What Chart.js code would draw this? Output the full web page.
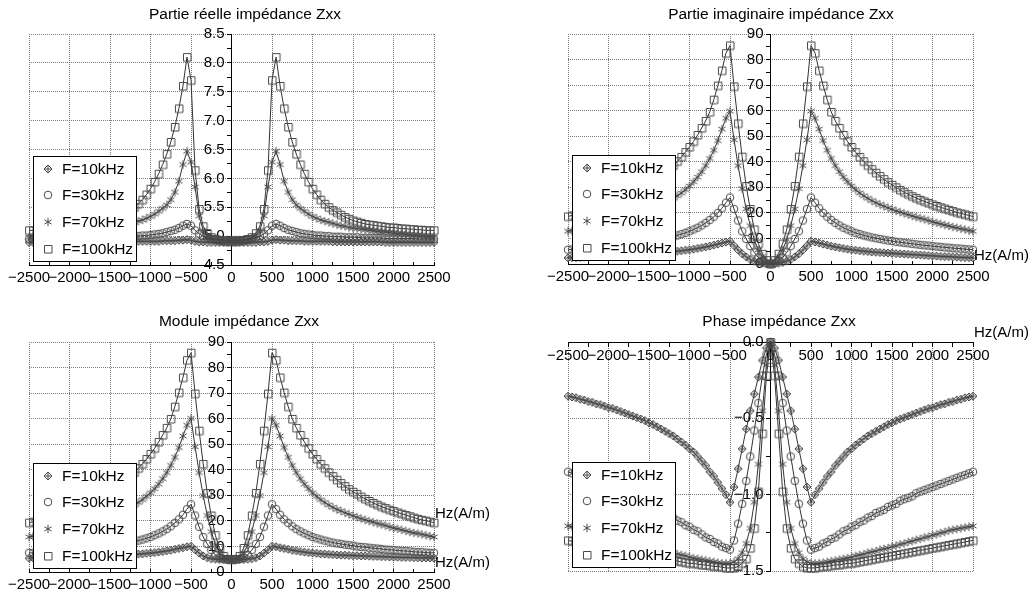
<!DOCTYPE html>
<html>
<head>
<meta charset="utf-8">
<title>Impédance Zxx</title>
<script src="https://cdn.jsdelivr.net/npm/chart.js@4.4.1/dist/chart.umd.min.js"></script>
<style>
  body { margin: 0; background: #fff; font-family: "Liberation Sans", Arial, sans-serif; }
  #page { position: relative; width: 1036px; height: 599px; overflow: hidden; background: #fff; }
  canvas { position: absolute; }
  .title { position: absolute; width: 400px; text-align: center; font-size: 15.5px; line-height: 18px; color: #000; white-space: nowrap; }
  .unit { position: absolute; font-size: 15px; line-height: 18px; color: #000; white-space: nowrap; }
</style>
</head>
<body>
<div id="page">
  <canvas id="c1" width="518" height="300" style="left:0px;top:0px"></canvas>
  <canvas id="c2" width="518" height="300" style="left:518px;top:0px"></canvas>
  <canvas id="c3" width="518" height="299" style="left:0px;top:300px"></canvas>
  <canvas id="c4" width="518" height="299" style="left:518px;top:300px"></canvas>

  <div class="title" style="left:45px;top:5px">Partie réelle impédance Zxx</div>
  <div class="title" style="left:581px;top:5px">Partie imaginaire impédance Zxx</div>
  <div class="title" style="left:39px;top:312px">Module impédance Zxx</div>
  <div class="title" style="left:579px;top:312px">Phase impédance Zxx</div>

  <div class="unit" style="left:974px;top:246px">Hz(A/m)</div>
  <div class="unit" style="left:435px;top:504px">Hz(A/m)</div>
  <div class="unit" style="left:435px;top:553px">Hz(A/m)</div>
  <div class="unit" style="left:974px;top:323px">Hz(A/m)</div>
</div>

<script>

const hz = [
  -2500,-2450,-2400,-2350,-2300,-2250,-2200,-2150,-2100,-2050,
  -2000,-1950,-1900,-1850,-1800,-1750,-1700,-1650,-1600,-1550,
  -1500,-1450,-1400,-1350,-1300,-1250,-1200,-1150,-1100,-1050,
  -1000,-950,-900,-850,-800,-750,-700,-650,-600,-550,
  -500,-450,-400,-350,-300,-250,-200,-150,-100,-50,
  0,
  50,100,150,200,250,300,350,400,450,500,
  550,600,650,700,750,800,850,900,950,1000,
  1050,1100,1150,1200,1250,1300,1350,1400,1450,1500,
  1550,1600,1650,1700,1750,1800,1850,1900,1950,2000,
  2050,2100,2150,2200,2250,2300,2350,2400,2450,2500
];

const legendLabels = ["F=10kHz", "F=30kHz", "F=70kHz", "F=100kHz"];

// partie réelle
const reelF10 = [
  4.89,4.89,4.89,4.89,4.89,4.89,4.89,4.89,4.89,4.89,
  4.89,4.89,4.89,4.9,4.9,4.9,4.9,4.9,4.9,4.9,
  4.9,4.9,4.9,4.9,4.9,4.9,4.91,4.91,4.91,4.91,
  4.91,4.91,4.91,4.92,4.92,4.92,4.92,4.93,4.93,4.94,
  4.93,4.91,4.9,4.9,4.89,4.89,4.89,4.89,4.89,4.89,
  4.89,
  4.89,4.89,4.89,4.89,4.89,4.89,4.9,4.9,4.91,4.93,
  4.94,4.93,4.93,4.92,4.92,4.92,4.92,4.91,4.91,4.91,
  4.91,4.91,4.91,4.91,4.9,4.9,4.9,4.9,4.9,4.9,
  4.9,4.9,4.9,4.9,4.9,4.9,4.9,4.89,4.89,4.89,
  4.89,4.89,4.89,4.89,4.89,4.89,4.89,4.89,4.89,4.89
];
const reelF30 = [
  4.95,4.95,4.95,4.95,4.95,4.96,4.96,4.96,4.96,4.96,
  4.96,4.96,4.96,4.97,4.97,4.97,4.97,4.97,4.97,4.98,
  4.98,4.98,4.98,4.99,4.99,4.99,5.0,5.0,5.01,5.01,
  5.02,5.03,5.04,5.05,5.07,5.09,5.11,5.14,5.18,5.21,
  5.18,5.1,5.04,5.0,4.97,4.95,4.94,4.93,4.93,4.93,
  4.93,
  4.93,4.93,4.93,4.94,4.95,4.97,5.0,5.04,5.1,5.18,
  5.21,5.18,5.14,5.11,5.09,5.07,5.05,5.04,5.03,5.02,
  5.01,5.01,5.0,5.0,4.99,4.99,4.99,4.98,4.98,4.98,
  4.98,4.97,4.97,4.97,4.97,4.97,4.97,4.96,4.96,4.96,
  4.96,4.96,4.96,4.96,4.96,4.95,4.95,4.95,4.95,4.95
];
const reelF70 = [
  4.98,4.99,4.99,5.0,5.01,5.01,5.02,5.03,5.04,5.04,
  5.05,5.06,5.07,5.07,5.08,5.09,5.1,5.11,5.12,5.13,
  5.14,5.15,5.17,5.18,5.2,5.22,5.24,5.26,5.28,5.31,
  5.34,5.38,5.43,5.48,5.54,5.63,5.76,5.95,6.24,6.47,
  6.28,5.85,5.35,5.1,5.01,4.97,4.95,4.94,4.93,4.93,
  4.93,
  4.93,4.93,4.94,4.95,4.97,5.01,5.1,5.35,5.85,6.28,
  6.47,6.24,5.95,5.76,5.63,5.54,5.48,5.43,5.38,5.34,
  5.31,5.28,5.26,5.24,5.22,5.2,5.18,5.17,5.15,5.14,
  5.13,5.12,5.11,5.1,5.09,5.08,5.07,5.07,5.06,5.05,
  5.04,5.04,5.03,5.02,5.01,5.01,5.0,4.99,4.99,4.98
];
const reelF100 = [
  5.1,5.1,5.1,5.11,5.11,5.12,5.12,5.13,5.13,5.14,
  5.15,5.15,5.16,5.17,5.18,5.19,5.2,5.21,5.23,5.25,
  5.27,5.3,5.33,5.37,5.41,5.45,5.5,5.56,5.63,5.72,
  5.82,5.94,6.08,6.24,6.42,6.63,6.89,7.21,7.6,8.1,
  7.7,6.14,5.47,5.17,5.05,4.98,4.95,4.93,4.92,4.91,
  4.91,
  4.91,4.92,4.93,4.95,4.98,5.05,5.17,5.47,6.14,7.7,
  8.1,7.6,7.21,6.89,6.63,6.42,6.24,6.08,5.94,5.82,
  5.72,5.63,5.56,5.5,5.45,5.41,5.37,5.33,5.3,5.27,
  5.25,5.23,5.21,5.2,5.19,5.18,5.17,5.16,5.15,5.15,
  5.14,5.13,5.13,5.12,5.12,5.11,5.11,5.1,5.1,5.1
];

// partie imaginaire
const imagF10 = [
  2.4,2.5,2.5,2.6,2.7,2.8,2.9,2.9,3.0,3.1,
  3.2,3.3,3.4,3.5,3.6,3.7,3.8,3.9,4.0,4.1,
  4.2,4.3,4.4,4.5,4.6,4.7,4.9,5.0,5.2,5.4,
  5.6,5.8,6.1,6.4,6.7,7.0,7.4,7.8,8.2,8.6,
  8.9,7.2,5.5,4.0,2.8,1.8,1.1,0.6,0.3,0.1,
  0,
  0.1,0.3,0.6,1.1,1.8,2.8,4.0,5.5,7.2,8.9,
  8.6,8.2,7.8,7.4,7.0,6.7,6.4,6.1,5.8,5.6,
  5.4,5.2,5.0,4.9,4.7,4.6,4.5,4.4,4.3,4.2,
  4.1,4.0,3.9,3.8,3.7,3.6,3.5,3.4,3.3,3.2,
  3.1,3.0,2.9,2.9,2.8,2.7,2.6,2.5,2.5,2.4
];
const imagF30 = [
  5.6,5.7,5.8,6.0,6.1,6.2,6.4,6.5,6.7,6.8,
  7.0,7.2,7.3,7.5,7.7,7.9,8.1,8.3,8.5,8.7,
  9.0,9.2,9.5,9.8,10.1,10.4,10.8,11.2,11.7,12.2,
  12.8,13.5,14.2,15.1,16.1,17.2,18.5,20.0,21.8,24.0,
  26.0,21.5,17.0,12.8,9.8,7.0,4.5,2.5,1.2,0.3,
  0,
  0.3,1.2,2.5,4.5,7.0,9.8,12.8,17.0,21.5,26.0,
  24.0,21.8,20.0,18.5,17.2,16.1,15.1,14.2,13.5,12.8,
  12.2,11.7,11.2,10.8,10.4,10.1,9.8,9.5,9.2,9.0,
  8.7,8.5,8.3,8.1,7.9,7.7,7.5,7.3,7.2,7.0,
  6.8,6.7,6.5,6.4,6.2,6.1,6.0,5.8,5.7,5.6
];
const imagF70 = [
  12.8,13.1,13.5,13.8,14.2,14.5,14.9,15.3,15.7,16.1,
  16.5,17.0,17.5,17.9,18.3,18.8,19.3,19.8,20.3,20.8,
  21.4,22.0,22.6,23.3,24.0,24.8,25.7,26.7,27.8,29.1,
  30.5,32.2,34.0,36.1,38.5,41.3,44.5,48.3,52.8,57.0,
  59.8,48.6,38.5,29.5,21.5,15.0,9.5,5.5,3.0,1.0,
  0,
  1.0,3.0,5.5,9.5,15.0,21.5,29.5,38.5,48.6,59.8,
  57.0,52.8,48.3,44.5,41.3,38.5,36.1,34.0,32.2,30.5,
  29.1,27.8,26.7,25.7,24.8,24.0,23.3,22.6,22.0,21.4,
  20.8,20.3,19.8,19.3,18.8,18.3,17.9,17.5,17.0,16.5,
  16.1,15.7,15.3,14.9,14.5,14.2,13.8,13.5,13.1,12.8
];
const imagF100 = [
  18.6,19.0,19.4,19.8,20.2,20.7,21.2,21.7,22.2,22.7,
  23.3,23.9,24.5,25.1,25.8,26.5,27.3,28.1,29.0,30.0,
  31.0,32.0,33.2,34.4,35.7,37.1,38.6,40.2,41.9,43.8,
  45.8,48.0,50.5,53.2,56.0,59.5,64.3,69.8,75.7,82.5,
  85.5,69.5,55.0,42.0,30.5,21.5,13.5,8.0,4.0,1.5,
  0,
  1.5,4.0,8.0,13.5,21.5,30.5,42.0,55.0,69.5,85.5,
  82.5,75.7,69.8,64.3,59.5,56.0,53.2,50.5,48.0,45.8,
  43.8,41.9,40.2,38.6,37.1,35.7,34.4,33.2,32.0,31.0,
  30.0,29.0,28.1,27.3,26.5,25.8,25.1,24.5,23.9,23.3,
  22.7,22.2,21.7,21.2,20.7,20.2,19.8,19.4,19.0,18.6
];

// module
const moduleF10 = [
  5.4,5.5,5.5,5.5,5.6,5.6,5.7,5.7,5.7,5.8,
  5.8,5.9,6.0,6.0,6.1,6.1,6.2,6.3,6.3,6.4,
  6.4,6.5,6.6,6.6,6.7,6.8,6.9,7.0,7.1,7.3,
  7.4,7.6,7.8,8.0,8.3,8.5,8.9,9.2,9.5,9.9,
  10.1,8.7,7.4,6.3,5.6,5.2,5.0,4.9,4.9,4.9,
  4.9,
  4.9,4.9,4.9,5.0,5.2,5.6,6.3,7.4,8.7,10.1,
  9.9,9.5,9.2,8.9,8.5,8.3,8.0,7.8,7.6,7.4,
  7.3,7.1,7.0,6.9,6.8,6.7,6.6,6.6,6.5,6.4,
  6.4,6.3,6.3,6.2,6.1,6.1,6.0,6.0,5.9,5.8,
  5.8,5.7,5.7,5.7,5.6,5.6,5.5,5.5,5.5,5.4
];
const moduleF30 = [
  7.5,7.5,7.6,7.8,7.8,7.9,8.1,8.2,8.3,8.4,
  8.6,8.7,8.8,9.0,9.2,9.3,9.5,9.7,9.8,10.0,
  10.3,10.5,10.7,11.0,11.2,11.5,11.9,12.3,12.7,13.2,
  13.7,14.4,15.1,15.9,16.8,17.9,19.2,20.6,22.4,24.6,
  26.5,22.1,17.7,13.7,11.0,8.6,6.7,5.5,5.1,4.9,
  4.9,
  4.9,5.1,5.5,6.7,8.6,11.0,13.7,17.7,22.1,26.5,
  24.6,22.4,20.6,19.2,17.9,16.8,15.9,15.1,14.4,13.7,
  13.2,12.7,12.3,11.9,11.5,11.2,11.0,10.7,10.5,10.3,
  10.0,9.8,9.7,9.5,9.3,9.2,9.0,8.8,8.7,8.6,
  8.4,8.3,8.2,8.1,7.9,7.8,7.8,7.6,7.5,7.5
];
const moduleF70 = [
  13.7,14.0,14.4,14.7,15.1,15.3,15.7,16.1,16.5,16.9,
  17.2,17.7,18.2,18.6,19.0,19.5,19.9,20.4,20.9,21.4,
  22.0,22.6,23.2,23.9,24.5,25.3,26.2,27.2,28.3,29.6,
  31.0,32.6,34.4,36.5,38.9,41.7,44.9,48.7,53.2,57.4,
  60.1,49.0,38.9,29.9,22.1,15.8,10.7,7.4,5.8,5.0,
  4.9,
  5.0,5.8,7.4,10.7,15.8,22.1,29.9,38.9,49.0,60.1,
  57.4,53.2,48.7,44.9,41.7,38.9,36.5,34.4,32.6,31.0,
  29.6,28.3,27.2,26.2,25.3,24.5,23.9,23.2,22.6,22.0,
  21.4,20.9,20.4,19.9,19.5,19.0,18.6,18.2,17.7,17.2,
  16.9,16.5,16.1,15.7,15.3,15.1,14.7,14.4,14.0,13.7
];
const moduleF100 = [
  19.3,19.7,20.1,20.4,20.8,21.3,21.8,22.3,22.8,23.3,
  23.9,24.4,25.0,25.6,26.3,27.0,27.8,28.6,29.5,30.5,
  31.4,32.4,33.6,34.8,36.1,37.5,39.0,40.6,42.3,44.2,
  46.2,48.4,50.9,53.6,56.4,59.9,64.7,70.2,76.1,82.9,
  85.8,69.8,55.3,42.3,30.9,22.1,14.4,9.4,6.3,5.1,
  4.9,
  5.1,6.3,9.4,14.4,22.1,30.9,42.3,55.3,69.8,85.8,
  82.9,76.1,70.2,64.7,59.9,56.4,53.6,50.9,48.4,46.2,
  44.2,42.3,40.6,39.0,37.5,36.1,34.8,33.6,32.4,31.4,
  30.5,29.5,28.6,27.8,27.0,26.3,25.6,25.0,24.4,23.9,
  23.3,22.8,22.3,21.8,21.3,20.8,20.4,20.1,19.7,19.3
];

// phase
const phaseF10 = [
  -0.355,-0.36,-0.365,-0.375,-0.38,-0.39,-0.395,-0.405,-0.41,-0.42,
  -0.43,-0.435,-0.445,-0.455,-0.465,-0.475,-0.485,-0.495,-0.505,-0.515,
  -0.53,-0.54,-0.555,-0.57,-0.585,-0.6,-0.615,-0.635,-0.655,-0.675,
  -0.7,-0.72,-0.75,-0.78,-0.81,-0.85,-0.88,-0.92,-0.96,-1.0,
  -1.05,-0.95,-0.83,-0.7,-0.57,-0.45,-0.34,-0.23,-0.12,-0.04,
  0,
  -0.04,-0.12,-0.23,-0.34,-0.45,-0.57,-0.7,-0.83,-0.95,-1.05,
  -1.0,-0.96,-0.92,-0.88,-0.85,-0.81,-0.78,-0.75,-0.72,-0.7,
  -0.675,-0.655,-0.635,-0.615,-0.6,-0.585,-0.57,-0.555,-0.54,-0.53,
  -0.515,-0.505,-0.495,-0.485,-0.475,-0.465,-0.455,-0.445,-0.435,-0.43,
  -0.42,-0.41,-0.405,-0.395,-0.39,-0.38,-0.375,-0.365,-0.36,-0.355
];
const phaseF30 = [
  -0.85,-0.86,-0.87,-0.88,-0.89,-0.9,-0.91,-0.92,-0.93,-0.94,
  -0.95,-0.96,-0.97,-0.98,-0.99,-1.01,-1.02,-1.03,-1.04,-1.06,
  -1.07,-1.08,-1.1,-1.11,-1.12,-1.14,-1.15,-1.17,-1.18,-1.2,
  -1.21,-1.23,-1.24,-1.26,-1.28,-1.29,-1.31,-1.32,-1.34,-1.35,
  -1.36,-1.3,-1.19,-1.06,-0.91,-0.75,-0.58,-0.4,-0.22,-0.08,
  0,
  -0.08,-0.22,-0.4,-0.58,-0.75,-0.91,-1.06,-1.19,-1.3,-1.36,
  -1.35,-1.34,-1.32,-1.31,-1.29,-1.28,-1.26,-1.24,-1.23,-1.21,
  -1.2,-1.18,-1.17,-1.15,-1.14,-1.12,-1.11,-1.1,-1.08,-1.07,
  -1.06,-1.04,-1.03,-1.02,-1.01,-0.99,-0.98,-0.97,-0.96,-0.95,
  -0.94,-0.93,-0.92,-0.91,-0.9,-0.89,-0.88,-0.87,-0.86,-0.85
];
const phaseF70 = [
  -1.205,-1.21,-1.215,-1.22,-1.225,-1.23,-1.235,-1.245,-1.25,-1.26,
  -1.265,-1.275,-1.28,-1.29,-1.295,-1.305,-1.31,-1.32,-1.325,-1.335,
  -1.34,-1.35,-1.355,-1.36,-1.37,-1.375,-1.38,-1.39,-1.395,-1.4,
  -1.41,-1.415,-1.42,-1.425,-1.43,-1.435,-1.44,-1.445,-1.45,-1.45,
  -1.45,-1.44,-1.42,-1.38,-1.32,-1.22,-1.05,-0.8,-0.45,-0.15,
  0,
  -0.15,-0.45,-0.8,-1.05,-1.22,-1.32,-1.38,-1.42,-1.44,-1.45,
  -1.45,-1.45,-1.445,-1.44,-1.435,-1.43,-1.425,-1.42,-1.415,-1.41,
  -1.4,-1.395,-1.39,-1.38,-1.375,-1.37,-1.36,-1.355,-1.35,-1.34,
  -1.335,-1.325,-1.32,-1.31,-1.305,-1.295,-1.29,-1.28,-1.275,-1.265,
  -1.26,-1.25,-1.245,-1.235,-1.23,-1.225,-1.22,-1.215,-1.21,-1.205
];
const phaseF100 = [
  -1.3,-1.305,-1.31,-1.315,-1.32,-1.325,-1.33,-1.335,-1.34,-1.345,
  -1.35,-1.355,-1.36,-1.365,-1.37,-1.375,-1.38,-1.385,-1.39,-1.395,
  -1.4,-1.405,-1.41,-1.415,-1.42,-1.425,-1.43,-1.435,-1.44,-1.445,
  -1.45,-1.45,-1.455,-1.46,-1.46,-1.465,-1.47,-1.47,-1.475,-1.48,
  -1.48,-1.48,-1.47,-1.45,-1.42,-1.35,-1.22,-0.98,-0.6,-0.22,
  0,
  -0.22,-0.6,-0.98,-1.22,-1.35,-1.42,-1.45,-1.47,-1.48,-1.48,
  -1.48,-1.475,-1.47,-1.47,-1.465,-1.46,-1.46,-1.455,-1.45,-1.45,
  -1.445,-1.44,-1.435,-1.43,-1.425,-1.42,-1.415,-1.41,-1.405,-1.4,
  -1.395,-1.39,-1.385,-1.38,-1.375,-1.37,-1.365,-1.36,-1.355,-1.35,
  -1.345,-1.34,-1.335,-1.33,-1.325,-1.32,-1.315,-1.31,-1.305,-1.3
];

const fontFamily = "'Liberation Sans', Arial, sans-serif";

function makeMarker(kind) {

  const c = document.createElement("canvas");
  c.width = 12;
  c.height = 12;

  const g = c.getContext("2d");
  g.strokeStyle = "#4a4a4a";
  g.lineWidth = 1;
  g.beginPath();

  if (kind === "diamond") {
    g.moveTo(6, 2); g.lineTo(10, 6); g.lineTo(6, 10); g.lineTo(2, 6); g.closePath();
    g.moveTo(6, 2); g.lineTo(6, 10);
    g.moveTo(2, 6); g.lineTo(10, 6);
  } else if (kind === "circle") {
    g.arc(6, 6, 3.8, 0, Math.PI * 2);
  } else if (kind === "star") {
    g.moveTo(6, 1.8); g.lineTo(6, 10.2);
    g.moveTo(2.4, 3.9); g.lineTo(9.6, 8.1);
    g.moveTo(2.4, 8.1); g.lineTo(9.6, 3.9);
  } else {
    g.rect(2.5, 2.5, 7.5, 7.5);
  }

  g.stroke();
  return c;
}

const markers = [
  makeMarker("diamond"),
  makeMarker("circle"),
  makeMarker("star"),
  makeMarker("square")
];

function isMajor(v, step) {
  const r = v / step;
  return Math.abs(r - Math.round(r)) < 1e-6;
}

function fmt(v, digits) {
  return v.toFixed(digits).replace("-", "\u2212");
}

// legend box drawn inside the plot, bottom left
const boxLegend = {
  id: "boxLegend",
  afterDatasetsDraw(chart) {

    const ctx = chart.ctx;
    const area = chart.chartArea;
    const w = 103;
    const h = 105;
    const left = Math.round(area.left + 4);
    const top = Math.round(area.bottom - 4 - h);

    ctx.save();
    ctx.fillStyle = "#fff";
    ctx.fillRect(left, top, w, h);
    ctx.strokeStyle = "#000";
    ctx.lineWidth = 1;
    ctx.strokeRect(left + 0.5, top + 0.5, w, h);

    ctx.font = "15.5px " + fontFamily;
    ctx.fillStyle = "#000";
    ctx.textBaseline = "middle";
    ctx.textAlign = "left";

    chart.data.datasets.forEach((ds, i) => {
      const y = top + 12.5 + i * 26.7;
      const m = ds.pointStyle;
      ctx.drawImage(m, Math.round(left + 14.5 - m.width / 2), Math.round(y - m.height / 2));
      ctx.fillText(ds.label, left + 29, y + 1);
    });

    ctx.restore();
  }
};

function buildChart(id, seriesList, yAxis, xOnTop, pad) {

  const ctx = document.getElementById(id);

  const datasets = seriesList.map((values, i) => ({
    label: legendLabels[i],
    data: hz.map((x, k) => ({ x: x, y: values[k] })),
    pointStyle: markers[i],
    pointRadius: 4,
    pointHoverRadius: 4,
    borderColor: "#333",
    borderWidth: 1,
    fill: false,
    tension: 0,
    clip: false
  }));

  const tickFont = { family: fontFamily, size: 15 };

  return new Chart(ctx, {

    type: "line",

    data: { datasets: datasets },

    options: {
      responsive: false,
      animation: false,
      events: [],
      layout: { padding: pad },
      plugins: {
        legend: { display: false },
        title: { display: false },
        tooltip: { enabled: false }
      },
      scales: {
        x: {
          type: "linear",
          min: -2500,
          max: 2500,
          position: { y: xOnTop ? yAxis.max : yAxis.min },
          grid: {
            color: c => (c.tick && isMajor(c.tick.value, 500)) ? "#7a7a7a" : "rgba(0,0,0,0)",
            tickColor: "#000",
            tickLength: xOnTop ? 4 : -4,
            lineWidth: 1
          },
          border: { display: true, color: "#000", width: 1, dash: [1, 1] },
          ticks: {
            stepSize: 250,
            autoSkip: false,
            maxRotation: 0,
            minRotation: 0,
            padding: xOnTop ? 1 : 8,
            color: "#000",
            font: tickFont,
            callback: v => isMajor(v, 500) ? fmt(v, 0) : ""
          }
        },
        y: {
          type: "linear",
          min: yAxis.min,
          max: yAxis.max,
          position: "center",
          grid: {
            color: c => (c.tick && isMajor(c.tick.value, yAxis.step)) ? "#7a7a7a" : "rgba(0,0,0,0)",
            tickColor: "#000",
            tickLength: 4,
            lineWidth: 1
          },
          border: { display: true, color: "#000", width: 1, dash: [1, 1] },
          ticks: {
            stepSize: yAxis.step / 2,
            autoSkip: false,
            padding: 3,
            color: "#000",
            font: tickFont,
            callback: v => isMajor(v, yAxis.step) ? fmt(v, yAxis.digits) : ""
          }
        }
      }
    },

    plugins: [boxLegend]
  });
}

buildChart("c1",
  [reelF10, reelF30, reelF70, reelF100],
  { min: 4.5, max: 8.5, step: 0.5, digits: 1 },
  false,
  { left: 29, right: 84, top: 34, bottom: 35 });

buildChart("c2",
  [imagF10, imagF30, imagF70, imagF100],
  { min: 0, max: 90, step: 10, digits: 0 },
  false,
  { left: 50, right: 63, top: 34, bottom: 36 });

buildChart("c3",
  [moduleF10, moduleF30, moduleF70, moduleF100],
  { min: 0, max: 90, step: 10, digits: 0 },
  false,
  { left: 29, right: 84, top: 42, bottom: 27 });

buildChart("c4",
  [phaseF10, phaseF30, phaseF70, phaseF100],
  { min: -1.5, max: 0, step: 0.5, digits: 1 },
  true,
  { left: 50, right: 63, top: 42, bottom: 28 });

</script>
</body>
</html>
